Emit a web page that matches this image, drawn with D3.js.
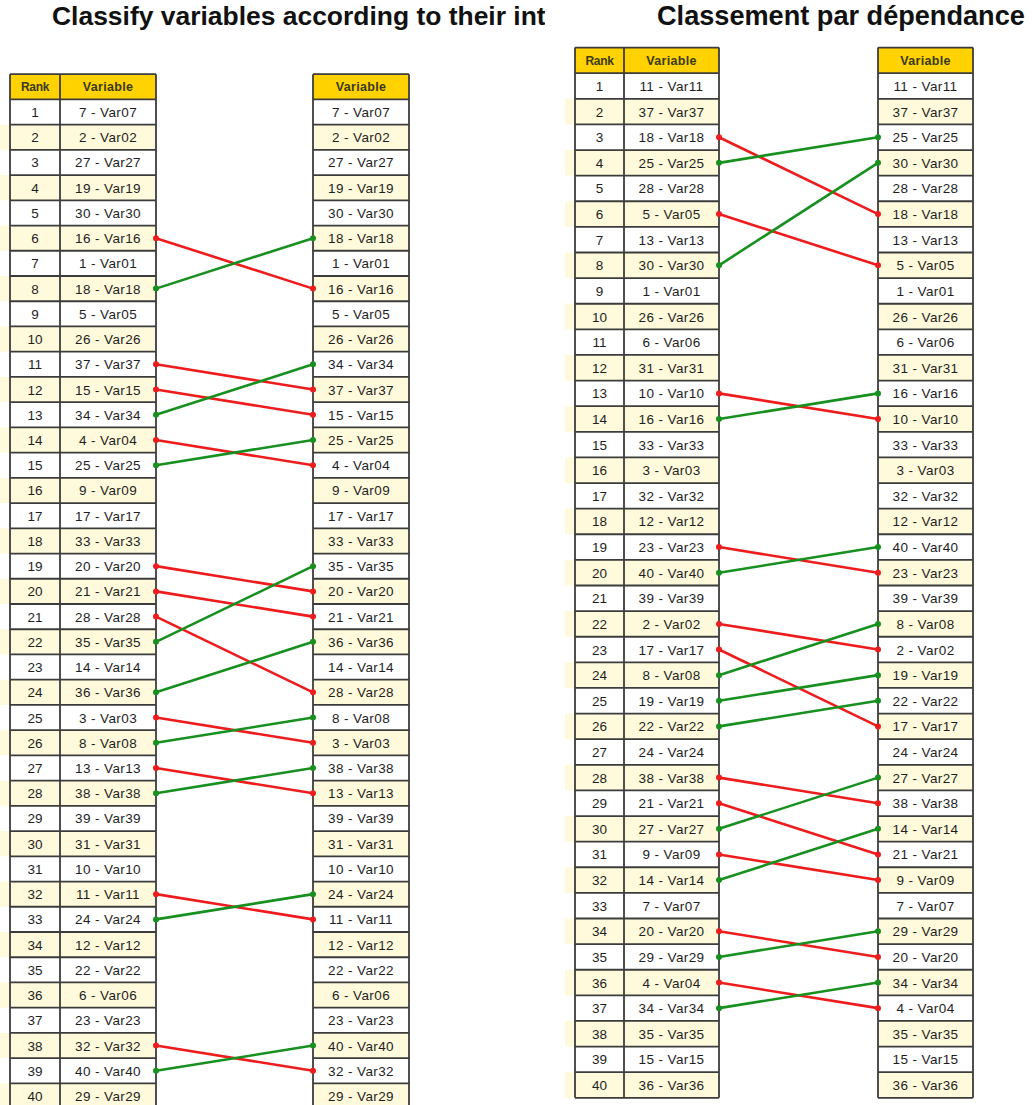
<!DOCTYPE html>
<html><head><meta charset="utf-8">
<script src="https://cdn.jsdelivr.net/npm/d3@7"></script>
<style>
html,body{margin:0;padding:0;background:#fff;}
svg{display:block;}
</style></head>
<body>
<svg id="chart" width="1033" height="1105"></svg>
<script>
// ---------- data ----------
const titleA = "Classify variables according to their intrinsic";
const titleB = "Classement par dépendance";
const rankLabels = d3.range(1, 41);
const headerRank = "Rank";
const headerVar = "Variable";

// panel A (left)
const orderA1 = [7,2,27,19,30,16,1,18,5,26,37,15,34,4,25,9,17,33,20,21,28,35,14,36,3,8,13,38,39,31,10,11,24,12,22,6,23,32,40,29];
const orderA2 = [7,2,27,19,30,18,1,16,5,26,34,37,15,25,4,9,17,33,35,20,21,36,14,28,8,3,38,13,39,31,10,24,11,12,22,6,23,40,32,29];

// panel B (right)
const orderB1 = [11,37,18,25,28,5,13,30,1,26,6,31,10,16,33,3,32,12,23,40,39,2,17,8,19,22,24,38,21,27,9,14,7,20,29,4,34,35,15,36];
const orderB2 = [11,37,25,30,28,18,13,5,1,26,6,31,16,10,33,3,32,12,40,23,39,8,2,19,22,17,24,27,38,14,21,9,7,29,20,34,4,35,15,36];

// ---------- drawing ----------
const svg = d3.select("#chart");
const FONT = "Liberation Sans, Arial, sans-serif";
const fmt = v => `${v} - Var${String(v).padStart(2, "0")}`;
const cHeader = "#FFD200", cAlt = "#FFFADB", cBorder = "#3c3c3c";
const cUp = "#17901f", cDown = "#ee1c1c";

const panels = [
  {title: titleA, titleX: 52, clip: 545, o1: orderA1, o2: orderA2,
   rankX: 10, rankW: 50, varW: 96, rightX: 313, yRange: [112, 1096]},
  {title: titleB, titleX: 657, titleW: 368, clip: 1033, o1: orderB1, o2: orderB2,
   rankX: 575, rankW: 49, varW: 95, rightX: 878, yRange: [86, 1085]}
];

panels.forEach((p, pi) => {
  const g = svg.append("g");
  const y = d3.scaleLinear().domain([1, 40]).range(p.yRange);
  const rh = (p.yRange[1] - p.yRange[0]) / 39;

  // title
  const cid = "clip" + pi;
  svg.append("clipPath").attr("id", cid).append("rect")
    .attr("x", p.titleX - 10).attr("y", 0).attr("width", p.clip - p.titleX + 10).attr("height", 40);
  const t = g.append("text").attr("clip-path", `url(#${cid})`)
    .attr("x", p.titleX).attr("y", 25)
    .attr("font-family", FONT)
    .attr("font-weight", "bold").attr("font-size", 20).attr("fill", "#111")
    .text(p.title);
  if (pi === 1) {
    const w = t.node().getComputedTextLength();
    t.attr("font-size", 20 * p.titleW / w);
  } else {
    const tmp = g.append("text").attr("font-family", FONT)
      .attr("font-weight", "bold").attr("font-size", 20).text("Classify variables according to their in");
    const w = tmp.node().getComputedTextLength(); tmp.remove();
    t.attr("font-size", 20 * 485 / w);
  }

  const varX = p.rankX + p.rankW;
  const tables = [
    {x: p.rankX, withRank: true, order: p.o1},
    {x: p.rightX, withRank: false, order: p.o2}
  ];

  tables.forEach(tb => {
    const tg = g.append("g");
    const vx = tb.withRank ? tb.x + p.rankW : tb.x;
    const left = tb.x;
    const right = vx + p.varW;
    // rows
    tg.selectAll("rect.row").data(rankLabels).join("rect").attr("class", "row")
      .attr("x", d => (d % 2 === 0 && tb.withRank) ? left - 10 : left)
      .attr("y", d => y(d) - rh / 2)
      .attr("width", d => (d % 2 === 0 && tb.withRank) ? right - left + 10 : right - left)
      .attr("height", rh)
      .attr("fill", d => d % 2 === 0 ? cAlt : "#fff");
    // header
    tg.append("rect").attr("x", left).attr("y", y(0) - rh / 2)
      .attr("width", right - left).attr("height", rh).attr("fill", cHeader);
    // horizontal lines
    tg.selectAll("line.h").data(d3.range(0, 41)).join("line").attr("class", "h")
      .attr("x1", left).attr("x2", right)
      .attr("y1", d => y(d) + rh / 2).attr("y2", d => y(d) + rh / 2)
      .attr("stroke", cBorder).attr("stroke-width", 1.8);
    tg.append("line").attr("x1", left).attr("x2", right)
      .attr("y1", y(0) - rh / 2).attr("y2", y(0) - rh / 2)
      .attr("stroke", cBorder).attr("stroke-width", 1.8);
    // vertical lines
    const vxs = tb.withRank ? [left, vx, right] : [left, right];
    tg.selectAll("line.v").data(vxs).join("line").attr("class", "v")
      .attr("x1", d => d).attr("x2", d => d)
      .attr("y1", y(0) - rh / 2).attr("y2", y(40) + rh / 2)
      .attr("stroke", cBorder).attr("stroke-width", 1.8);
    // header texts
    if (tb.withRank) {
      tg.append("text").attr("x", left + p.rankW / 2).attr("y", y(0) + 4.5).attr("font-family", FONT)
        .attr("font-size", 12).attr("font-weight", "bold").attr("fill", "#3a3a1a")
        .attr("text-anchor", "middle").attr("letter-spacing", -0.3).text(headerRank);
    }
    tg.append("text").attr("x", vx + p.varW / 2).attr("y", y(0) + 4.5).attr("font-family", FONT)
      .attr("font-size", 12.5).attr("font-weight", "bold").attr("fill", "#3a3a1a")
      .attr("text-anchor", "middle").attr("letter-spacing", 0.3).text(headerVar);
    // cell texts
    if (tb.withRank) {
      tg.selectAll("text.rk").data(rankLabels).join("text").attr("class", "rk")
        .attr("x", left + p.rankW / 2).attr("y", d => y(d) + 5)
        .attr("font-family", FONT).attr("font-size", 13.5)
        .attr("fill", "#1e1e1e").attr("text-anchor", "middle").text(d => d);
    }
    tg.selectAll("text.vr").data(tb.order).join("text").attr("class", "vr")
      .attr("x", vx + p.varW / 2).attr("y", (d, i) => y(i + 1) + 5)
      .attr("font-family", FONT).attr("font-size", 13.5)
      .attr("fill", "#1e1e1e").attr("text-anchor", "middle").attr("letter-spacing", 0.4).text(d => fmt(d));
  });

  // connectors
  const x1 = varX + p.varW, x2 = p.rightX;
  const moves = [];
  p.o1.forEach((v, i) => {
    const j = p.o2.indexOf(v);
    if (j !== i) moves.push({v, r1: i + 1, r2: j + 1});
  });
  const lg = g.append("g");
  lg.selectAll("line").data(moves).join("line")
    .attr("x1", x1).attr("x2", x2)
    .attr("y1", d => y(d.r1)).attr("y2", d => y(d.r2))
    .attr("stroke", d => d.r2 > d.r1 ? cDown : cUp).attr("stroke-width", 2.6);
  lg.selectAll("circle.a").data(moves).join("circle").attr("class", "a")
    .attr("cx", x1).attr("cy", d => y(d.r1)).attr("r", 3)
    .attr("fill", d => d.r2 > d.r1 ? cDown : cUp);
  lg.selectAll("circle.b").data(moves).join("circle").attr("class", "b")
    .attr("cx", x2).attr("cy", d => y(d.r2)).attr("r", 3)
    .attr("fill", d => d.r2 > d.r1 ? cDown : cUp);
});
</script>
</body></html>
